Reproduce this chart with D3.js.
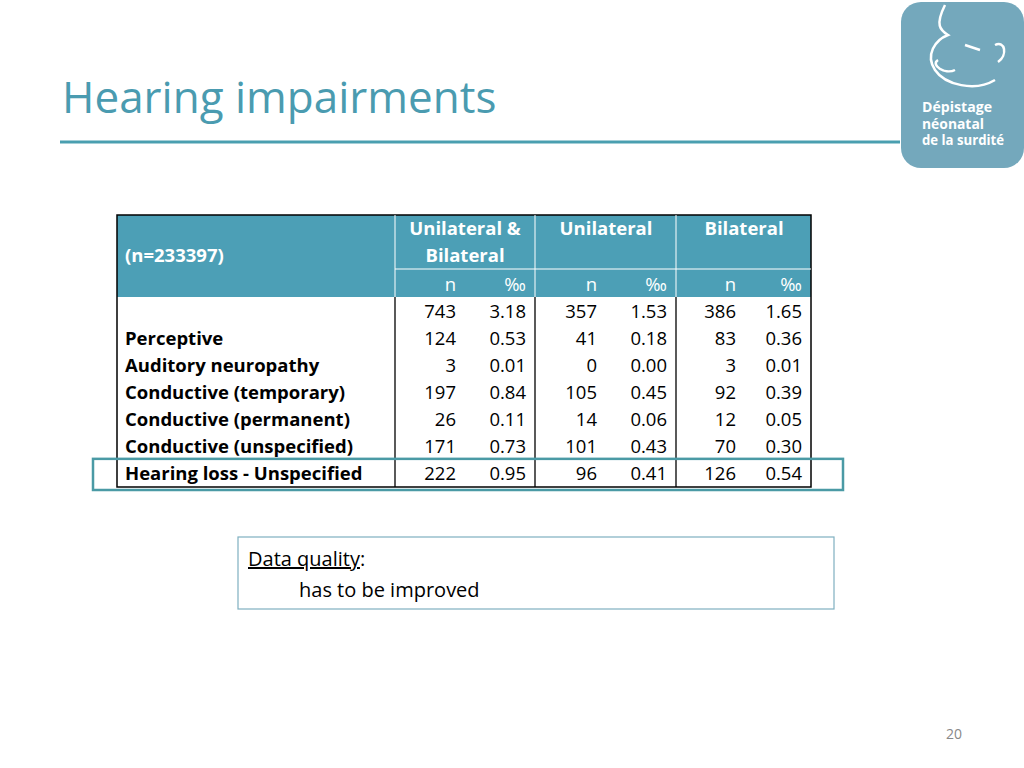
<!DOCTYPE html><html><head><meta charset="utf-8"><script src="https://cdn.jsdelivr.net/npm/d3@7"></script>
<style>body{margin:0;background:#fff}text{font-family:"Open Sans",sans-serif}</style></head><body>
<svg id="s" width="1024" height="768"></svg>
<script>
const categories=["","Perceptive","Auditory neuropathy","Conductive (temporary)","Conductive (permanent)","Conductive (unspecified)","Hearing loss - Unspecified"];
const groups=["Unilateral & Bilateral","Unilateral","Bilateral"];
const bothN=[743,124,3,197,26,171,222];
const bothP=["3.18","0.53","0.01","0.84","0.11","0.73","0.95"];
const uniN=[357,41,0,105,14,101,96];
const uniP=["1.53","0.18","0.00","0.45","0.06","0.43","0.41"];
const biN=[386,83,3,92,12,70,126];
const biP=["1.65","0.36","0.01","0.39","0.05","0.30","0.54"];
const teal="#4c9fb6";
const FS=18.5;
const svg=d3.select("#s");
svg.append("text").attr("x",62).attr("y",113).attr("font-size",44).attr("fill","#4a9bb0").text("Hearing impairments");
svg.append("line").attr("x1",60).attr("x2",900).attr("y1",142).attr("y2",142).attr("stroke","#4a9fb0").attr("stroke-width",3);
const g=svg.append("g");
g.append("rect").attr("x",901).attr("y",2).attr("width",123).attr("height",166).attr("rx",20).attr("fill","#74a8bc");
g.append("path").attr("d","M945,5 C935,25 940,30 948,35 C935,40 925,55 935,70 C945,85 975,92 995,80 M938,60 C930,65 945,75 955,70 M965,45 L980,50 M995,45 C1005,40 1008,55 998,62").attr("fill","none").attr("stroke","#fff").attr("stroke-width",2.5);
const logoW=[70,62,82];
["Dépistage","néonatal","de la surdité"].forEach((t,i)=>g.append("text").attr("x",922).attr("y",112+i*16.5).attr("font-size",15).attr("font-weight","bold").attr("fill","#fff").attr("font-family","Liberation Sans Narrow, Roboto, sans-serif").attr("textLength",logoW[i]).attr("lengthAdjust","spacingAndGlyphs").text(t));
const x0=117,x1=811,y0=215,yH=269,yB=297;
const colEdges=[395,465,535,606,676,745,811];
const y=d3.scaleBand().domain(d3.range(categories.length)).range([yB,487]);
svg.append("rect").attr("x",x0).attr("y",y0).attr("width",x1-x0).attr("height",yB-y0).attr("fill",teal);
svg.append("rect").attr("x",x0).attr("y",y0).attr("width",x1-x0).attr("height",487-y0).attr("fill","none").attr("stroke","#000").attr("stroke-width",1.5);
[395,535,676].forEach(x=>{svg.append("line").attr("x1",x).attr("x2",x).attr("y1",y0).attr("y2",yB).attr("stroke","#fff");svg.append("line").attr("x1",x).attr("x2",x).attr("y1",yB).attr("y2",487).attr("stroke","#000").attr("stroke-width",1.3);});
svg.append("line").attr("x1",395).attr("x2",x1).attr("y1",yH).attr("y2",yH).attr("stroke","#fff");
const hd=(x,yy,t,a)=>svg.append("text").attr("x",x).attr("y",yy).attr("font-size",FS).attr("font-weight","bold").attr("fill","#fff").attr("text-anchor",a||"middle").text(t);
hd(125,262,"(n=233397)","start");
hd(465,235,"Unilateral &");hd(465,262,"Bilateral");
hd(606,235,groups[1]);hd(744,235,groups[2]);
const sub=["n","‰","n","‰","n","‰"];
sub.forEach((t,i)=>svg.append("text").attr("x",colEdges[i+1]-9).attr("y",291).attr("font-size",FS).attr("fill","#fff").attr("text-anchor","end").text(t));
const cols=[bothN,bothP,uniN,uniP,biN,biP];
categories.forEach((c,r)=>{
 const by=y(r)+y.bandwidth()/2+7;
 svg.append("text").attr("x",125).attr("y",by).attr("font-size",FS).attr("font-weight","bold").attr("fill","#000").text(c);
 cols.forEach((arr,i)=>svg.append("text").attr("x",colEdges[i+1]-9).attr("y",by).attr("font-size",FS).attr("fill","#000").attr("text-anchor","end").text(arr[r]));
});
const last=categories.length-1;
svg.append("rect").attr("x",93).attr("y",y(last)-1).attr("width",750).attr("height",y.bandwidth()+4).attr("fill","none").attr("stroke","#4a9aa5").attr("stroke-width",2.5);
svg.append("rect").attr("x",238).attr("y",537).attr("width",596).attr("height",72).attr("fill","none").attr("stroke","#7fb0c0").attr("stroke-width",1.2);
svg.append("text").attr("x",248).attr("y",566).attr("font-size",20).attr("fill","#000").html('<tspan text-decoration="underline">Data quality</tspan>:');
svg.append("text").attr("x",299).attr("y",597).attr("font-size",20).attr("fill","#000").text("has to be improved");
svg.append("text").attr("x",962).attr("y",739).attr("font-size",14).attr("fill","#888").attr("text-anchor","end").text("20");
</script></body></html>
